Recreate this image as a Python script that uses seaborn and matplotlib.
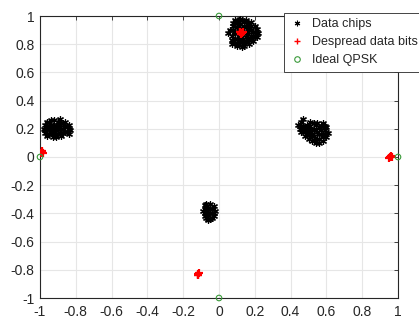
import matplotlib
matplotlib.use('Agg')
import matplotlib.pyplot as plt
from matplotlib.lines import Line2D
import seaborn as sns
import pandas as pd

# Data chips (received symbols), one list pair per cluster
chips_top_x = [0.06, 0.07, 0.08, 0.08, 0.09, 0.10, 0.10, 0.11, 0.11, 0.12, 0.13, 0.13, 0.14, 0.14,
               0.15, 0.16, 0.16, 0.17, 0.18, 0.18, 0.19, 0.20, 0.21, 0.21, 0.22, 0.05, 0.09, 0.12,
               0.15, 0.18, 0.07, 0.10, 0.13, 0.17, 0.12, 0.15, 0.09, 0.19, 0.11, 0.16,
               0.08, 0.10, 0.12, 0.14, 0.16, 0.18, 0.20, 0.07, 0.09, 0.11, 0.13, 0.15, 0.17,
               0.19, 0.21, 0.08, 0.10, 0.12, 0.14, 0.16, 0.18, 0.20, 0.11, 0.14, 0.17]
chips_top_y = [0.90, 0.86, 0.93, 0.82, 0.88, 0.95, 0.84, 0.91, 0.80, 0.87, 0.97, 0.83, 0.92, 0.79,
               0.88, 0.95, 0.84, 0.90, 0.86, 0.93, 0.82, 0.89, 0.91, 0.85, 0.88, 0.88, 0.97, 0.98,
               0.97, 0.96, 0.80, 0.79, 0.78, 0.80, 0.91, 0.85, 0.84, 0.89, 0.86, 0.91,
               0.90, 0.92, 0.94, 0.93, 0.92, 0.90, 0.86, 0.83, 0.81, 0.83, 0.85, 0.82, 0.83,
               0.85, 0.88, 0.95, 0.89, 0.82, 0.96, 0.87, 0.83, 0.93, 0.97, 0.81, 0.94]

chips_left_x = [-0.98, -0.97, -0.97, -0.96, -0.95, -0.95, -0.94, -0.93, -0.93, -0.92, -0.91, -0.90,
                -0.90, -0.89, -0.88, -0.88, -0.87, -0.86, -0.85, -0.84, -0.84, -0.83, -0.96, -0.92,
                -0.89, -0.86, -0.94, -0.91,
                -0.97, -0.95, -0.93, -0.91, -0.89, -0.87, -0.85, -0.96, -0.94, -0.92, -0.90,
                -0.88, -0.86, -0.84, -0.93, -0.90, -0.87, -0.95]
chips_left_y = [0.20, 0.17, 0.23, 0.15, 0.20, 0.25, 0.18, 0.22, 0.14, 0.26, 0.19, 0.16,
                0.23, 0.27, 0.20, 0.15, 0.24, 0.18, 0.21, 0.16, 0.23, 0.19, 0.22, 0.17,
                0.21, 0.25, 0.26, 0.14,
                0.19, 0.16, 0.19, 0.22, 0.17, 0.20, 0.18, 0.25, 0.23, 0.21, 0.25,
                0.24, 0.22, 0.20, 0.16, 0.20, 0.17, 0.22]

chips_right_x = [0.44, 0.45, 0.46, 0.46, 0.47, 0.48, 0.49, 0.50, 0.50, 0.51, 0.52, 0.52, 0.53, 0.54,
                 0.54, 0.55, 0.56, 0.56, 0.57, 0.58, 0.58, 0.59, 0.60, 0.60, 0.61, 0.53, 0.57, 0.51,
                 0.55, 0.47,
                 0.48, 0.50, 0.52, 0.54, 0.56, 0.58, 0.60, 0.49, 0.51, 0.53, 0.55, 0.57, 0.59,
                 0.45, 0.47, 0.53, 0.56, 0.59, 0.49, 0.51, 0.48]
chips_right_y = [0.23, 0.20, 0.25, 0.18, 0.22, 0.15, 0.20, 0.13, 0.17, 0.22, 0.11, 0.19, 0.15, 0.23,
                 0.10, 0.18, 0.13, 0.21, 0.16, 0.24, 0.11, 0.19, 0.14, 0.21, 0.17, 0.20, 0.19, 0.14,
                 0.24, 0.27,
                 0.18, 0.20, 0.16, 0.19, 0.16, 0.14, 0.18, 0.23, 0.18, 0.12, 0.13, 0.22, 0.16,
                 0.22, 0.19, 0.24, 0.10, 0.22, 0.16, 0.25, 0.21]

chips_bottom_x = [-0.09, -0.08, -0.08, -0.07, -0.07, -0.06, -0.06, -0.05, -0.05, -0.04, -0.04,
                  -0.03, -0.03, -0.02, -0.06, -0.08,
                  -0.07, -0.05, -0.04, -0.06, -0.08, -0.03, -0.05, -0.07]
chips_bottom_y = [-0.38, -0.34, -0.42, -0.33, -0.39, -0.44, -0.36, -0.40, -0.33, -0.37, -0.43,
                  -0.35, -0.40, -0.38, -0.45, -0.40,
                  -0.36, -0.37, -0.40, -0.41, -0.37, -0.42, -0.44, -0.43]

# Despread data bits
bits_x = [0.120, 0.130, 0.125, 0.115, 0.135,
          -0.990, -0.995, -0.985, -0.990,
          0.955, 0.960, 0.950, 0.965,
          -0.115, -0.120, -0.110, -0.115]
bits_y = [0.885, 0.880, 0.875, 0.890, 0.885,
          0.035, 0.025, 0.030, 0.045,
          0.000, 0.005, -0.005, 0.000,
          -0.830, -0.835, -0.825, -0.840]

# Ideal QPSK constellation
ideal_x = [0, -1, 1, 0]
ideal_y = [1, 0, 0, -1]

ticks = [-1, -0.8, -0.6, -0.4, -0.2, 0, 0.2, 0.4, 0.6, 0.8, 1]
tick_labels = ['-1', '-0.8', '-0.6', '-0.4', '-0.2', '0', '0.2', '0.4', '0.6', '0.8', '1']

chips = pd.DataFrame({
    'x': chips_top_x + chips_left_x + chips_right_x + chips_bottom_x,
    'y': chips_top_y + chips_left_y + chips_right_y + chips_bottom_y,
})
bits = pd.DataFrame({'x': bits_x, 'y': bits_y})
ideal = pd.DataFrame({'x': ideal_x, 'y': ideal_y})

sns.set_style('white')
plt.rcParams['font.family'] = ['Liberation Sans', 'DejaVu Sans']

fig = plt.figure(figsize=(4.19, 3.2), dpi=100)
ax = fig.add_axes([40 / 419, 22 / 320, 358 / 419, 282 / 320])

asterisk = (6, 2, 0)
sns.scatterplot(data=chips, x='x', y='y', ax=ax, marker=asterisk, color='black',
                s=18, linewidth=0.9, legend=False, zorder=3)
sns.scatterplot(data=bits, x='x', y='y', ax=ax, marker='+', color='red',
                s=28, linewidth=1.6, legend=False, zorder=4)
sns.scatterplot(data=ideal, x='x', y='y', ax=ax, marker='o', facecolor='none',
                edgecolor='#3a9a3a', s=16, linewidth=0.8, legend=False, zorder=5, clip_on=False)

ax.set_xlim(-1, 1)
ax.set_ylim(-1, 1)
ax.set_xticks(ticks)
ax.set_yticks(ticks)
ax.set_xticklabels(tick_labels)
ax.set_yticklabels(tick_labels)
ax.set_xlabel('')
ax.set_ylabel('')
ax.grid(True, color='#e6e6e6', linewidth=0.8)
ax.set_axisbelow(True)
for sp in ax.spines.values():
    sp.set_color('#262626')
    sp.set_linewidth(0.8)
ax.tick_params(direction='in', length=3, width=0.6, colors='#262626', labelsize=10,
               top=True, right=True)
ax.tick_params(axis='x', pad=5)
ax.tick_params(axis='y', pad=4)

handles = [
    Line2D([], [], linestyle='none', marker=asterisk, color='black', markersize=4, markeredgewidth=0.8),
    Line2D([], [], linestyle='none', marker='+', color='red', markersize=5, markeredgewidth=1.0),
    Line2D([], [], linestyle='none', marker='o', markerfacecolor='none', markeredgecolor='#3a9a3a',
           markersize=4, markeredgewidth=0.8),
]
leg = fig.legend(handles, ['Data chips', 'Despread data bits', 'Ideal QPSK'],
                 loc='upper left', bbox_to_anchor=(284 / 419, 1 - 13 / 320),
                 fontsize=9, frameon=True, fancybox=False, framealpha=1,
                 edgecolor='#262626', handlelength=1.2, handletextpad=0.6,
                 borderpad=0.4, labelspacing=0.5, borderaxespad=0)
leg.get_frame().set_linewidth(0.6)

fig.savefig('out.png', dpi=100)
